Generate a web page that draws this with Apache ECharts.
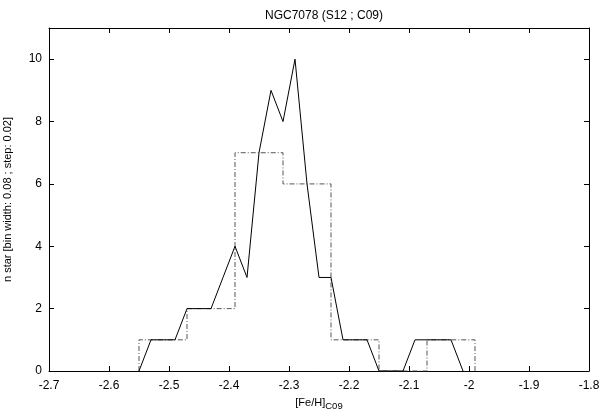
<!DOCTYPE html>
<html>
<head>
<meta charset="utf-8">
<script src="https://cdn.jsdelivr.net/npm/echarts@6/dist/echarts.min.js"></script>
<style>
html,body{margin:0;padding:0;background:#fff;}
#chart{width:600px;height:409px;}
</style>
</head>
<body>
<div id="chart"></div>
<script>
// Sliding-window counts (step 0.02) - solid line
const slideX = [-2.55,-2.53,-2.51,-2.49,-2.47,-2.45,-2.43,-2.41,-2.39,-2.37,-2.35,-2.33,-2.31,-2.29,-2.27,-2.25,-2.23,-2.21,-2.19,-2.17,-2.15,-2.13,-2.11,-2.09,-2.07,-2.05,-2.03,-2.01];
const slideN = [0,1,1,1,2,2,2,3,4,3,7,9,8,10,6,3,3,1,1,1,0,0,0,1,1,1,1,0];
// Histogram (bin width 0.08) - dash-dot steps
const binEdges = [-2.55,-2.47,-2.39,-2.31,-2.23,-2.15,-2.07,-1.99];
const binCounts = [1,2,7,6,1,0,1];
// Axis ticks
const xTicks = [-2.7,-2.6,-2.5,-2.4,-2.3,-2.2,-2.1,-2.0,-1.9,-1.8];
const yTicks = [0,2,4,6,8,10];

const FONT = 'Liberation Sans';
const solidData = slideX.map((x,i)=>[x, slideN[i]]);
const histData = [[binEdges[0],0]];
binCounts.forEach((c,i)=>histData.push([binEdges[i], c]));
histData.push([binEdges[binEdges.length-1], binCounts[binCounts.length-1]]);
histData.push([binEdges[binEdges.length-1], 0]);

const fmtX = v => { const r = Math.round(v*10)/10; return String(r); };

const baseX = {
  type:'value', min:-2.7, max:-1.8, interval:0.1,
  axisLine:{show:true, onZero:false, lineStyle:{color:'#000', width:1}},
  axisTick:{show:true, inside:true, length:5, lineStyle:{color:'#000'}},
  splitLine:{show:false}
};
const baseY = {
  type:'value', min:0, max:11, interval:2,
  axisLine:{show:true, onZero:false, lineStyle:{color:'#000', width:1}},
  axisTick:{show:true, inside:true, length:5, lineStyle:{color:'#000'}},
  splitLine:{show:false}
};

const chart = echarts.init(document.getElementById('chart'), null, {renderer:'canvas'});
chart.setOption({
  animation:false,
  backgroundColor:'#fff',
  title:{
    text:'NGC7078 (S12 ; C09)', left:319, top:5, textAlign:'center',
    textStyle:{fontFamily:FONT, fontSize:12, fontWeight:'normal', color:'#000'}
  },
  grid:{left:49, right:11, top:28, bottom:38, containLabel:false, outerBoundsMode:'none'},
  xAxis:[
    Object.assign({}, baseX, {
      position:'bottom',
      axisLabel:{show:true, margin:9, color:'#000', fontFamily:FONT, fontSize:12, formatter:fmtX,
        customValues: xTicks},
      name:'{m|[Fe/H]}{s|C09}', nameLocation:'middle', nameGap:23,
      nameTextStyle:{
        rich:{
          m:{fontFamily:FONT, fontSize:11, color:'#000', verticalAlign:'top', lineHeight:13},
          s:{fontFamily:FONT, fontSize:9.5, color:'#000', verticalAlign:'bottom', lineHeight:10, padding:[4,0,0,0]}
        }
      }
    }),
    Object.assign({}, baseX, {position:'top', axisLabel:{show:false}})
  ],
  yAxis:[
    Object.assign({}, baseY, {
      position:'left',
      axisLabel:{show:true, margin:7, color:'#000', fontFamily:FONT, fontSize:12, customValues: yTicks},
      name:'n star [bin width: 0.08 ; step: 0.02]', nameLocation:'middle', nameGap:36, nameRotate:90,
      nameTextStyle:{fontFamily:FONT, fontSize:11, color:'#000'}
    }),
    Object.assign({}, baseY, {position:'right', axisLabel:{show:false}})
  ],
  series:[
    {
      type:'line', xAxisIndex:0, yAxisIndex:0, data:solidData, showSymbol:false, symbol:'none',
      lineStyle:{color:'#000', width:1}, z:3
    },
    {
      type:'line', xAxisIndex:0, yAxisIndex:0, data:histData, step:'end', showSymbol:false, symbol:'none',
      lineStyle:{color:'#555', width:1, type:[5,2,1,2]}, z:2
    }
  ]
});
</script>
</body>
</html>
